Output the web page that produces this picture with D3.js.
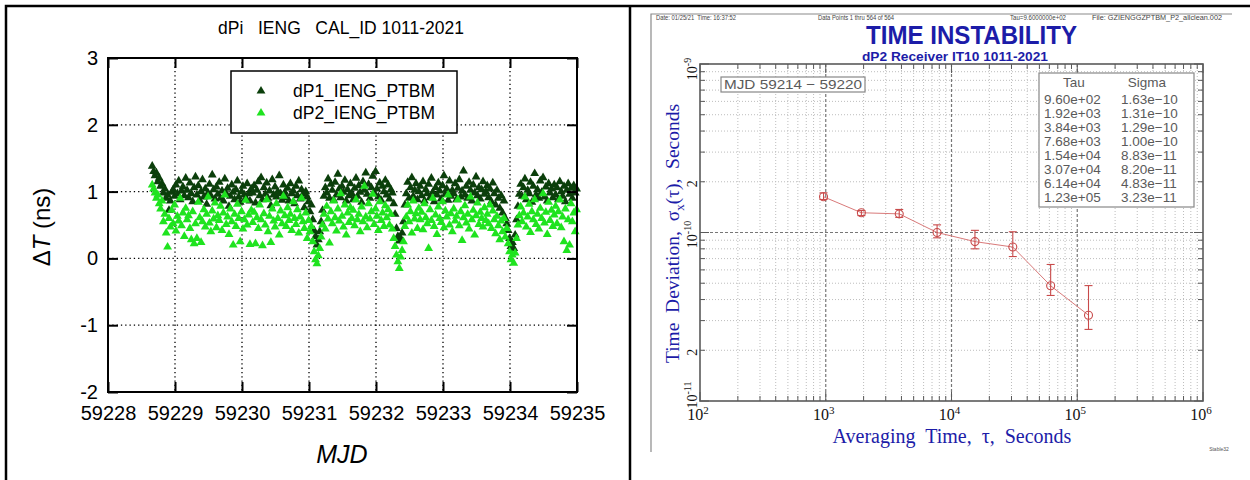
<!DOCTYPE html>
<html>
<head>
<meta charset="utf-8">
<script src="https://cdn.jsdelivr.net/npm/d3@7"></script>
<style>
  body { margin: 0; background: #fff; }
  svg { display: block; }
</style>
</head>
<body>
<svg id="chart" width="1250" height="480"></svg>
<script>
// ---------------- Calibration differences, IENG vs PTBM (ns) ----------------
const mjdStart = 59228.66;   // first epoch of the run
const mjdStep = 1 / 48;      // 30-minute sampling interval
const mjdTicks = [59228, 59229, 59230, 59231, 59232, 59233, 59234, 59235];
const dtTicks = [-2, -1, 0, 1, 2, 3];
const seriesNames = ["dP1_IENG_PTBM", "dP2_IENG_PTBM"];

// one row per half day
const dP1 = [
  1.38, 1.30, 1.24, 1.28, 1.15, 1.20, 1.08, 1.12, 0.98, 1.04, 0.90, 0.95, 0.72, 0.86, 0.99, 1.03, 0.93, 1.10, 0.97, 1.16, 0.88, 1.01, 1.07, 0.94,
  1.20, 1.02, 0.91, 1.13, 0.97, 0.85, 1.06, 1.22, 0.95, 1.09, 0.87, 1.00, 1.18, 0.92, 1.04, 0.81, 0.98, 1.11, 0.94, 1.25, 1.03, 0.89, 1.07, 0.96,
  1.14, 0.90, 1.01, 0.86, 1.19, 0.97, 1.05, 0.78, 0.93, 1.10, 0.99, 0.88, 1.03, 1.16, 0.92, 0.84, 1.00, 1.08, 0.95, 0.90, 1.12, 0.97, 0.86, 1.04,
  0.98, 1.09, 0.83, 1.02, 1.15, 0.94, 1.21, 0.88, 1.06, 0.96, 1.13, 0.90, 1.01, 0.79, 1.18, 0.95, 1.07, 0.92, 1.00, 1.24, 0.97, 0.87, 1.10, 0.99,
  0.91, 1.05, 0.86, 1.12, 0.97, 1.01, 0.82, 1.08, 0.94, 1.16, 0.89, 1.03, 0.96, 0.76, 1.00, 0.92, 0.85, 0.70, 0.80, 0.58, 0.42, 0.33, 0.20, 0.28,
  0.40, 0.55, 0.72, 0.93, 1.06, 0.98, 1.19, 0.90, 1.11, 1.02, 0.87, 1.14, 0.95, 1.26, 1.04, 0.91, 1.08, 0.99, 1.17, 0.86, 1.03, 0.94, 1.12, 0.97,
  0.88, 1.05, 1.20, 0.93, 1.09, 0.99, 0.84, 1.15, 1.02, 1.28, 0.96, 1.11, 0.90, 1.06, 1.23, 0.98, 1.30, 1.04, 0.92, 1.13, 0.87, 1.08, 1.00, 1.17,
  0.95, 1.10, 0.89, 1.03, 0.98, 0.82, 0.66, 0.45, 0.33, 0.26, 0.30, 0.38, 0.55, 0.80, 0.97, 1.14, 0.90, 1.06, 1.21, 0.93, 1.02, 1.12, 0.88, 1.00,
  1.08, 0.94, 1.15, 0.86, 1.03, 0.97, 1.11, 0.91, 1.20, 0.99, 0.85, 1.06, 0.95, 1.13, 1.01, 0.89, 1.09, 1.24, 0.96, 1.04, 0.87, 1.16, 0.93, 1.02,
  0.97, 1.12, 0.88, 1.05, 1.18, 0.92, 1.01, 1.31, 0.95, 1.08, 0.90, 1.14, 1.02, 0.86, 1.10, 0.98, 1.22, 0.94, 1.06, 0.89, 1.03, 1.15, 0.96, 1.00,
  1.09, 0.91, 1.04, 0.85, 1.13, 0.97, 0.80, 1.02, 0.90, 0.75, 0.94, 0.68, 0.86, 0.60, 0.52, 0.42, 0.30, 0.18, 0.24, 0.15, 0.35, 0.58, 0.78, 0.96,
  1.11, 0.93, 1.06, 1.19, 0.88, 1.02, 0.97, 1.14, 0.84, 1.08, 1.27, 0.95, 1.03, 0.90, 1.16, 0.99, 1.21, 0.92, 1.07, 0.86, 1.12, 0.98, 1.04, 0.91,
  1.10, 0.95, 1.06, 0.88, 1.15, 1.00, 0.93, 1.08, 0.85, 1.02, 1.12, 0.96, 1.05, 0.90, 1.09, 0.98, 1.04
];

const dP2 = [
  1.10, 1.04, 0.98, 0.90, 0.95, 0.82, 0.74, 0.86, 0.55, 0.66, 0.38, 0.17, 0.60, 0.47, 0.72, 0.52, 0.80, 0.41, 0.63, 0.56, 0.90, 0.49, 0.68, 0.33,
  0.75, 0.58, 0.64, 0.45, 0.28, 0.70, 0.22, 0.52, 0.30, 0.84, 0.61, 0.24, 0.55, 0.73, 0.47, 0.66, 0.92, 0.53, 0.40, 0.71, 0.59, 0.83, 0.46, 0.64,
  0.57, 0.78, 0.42, 0.68, 0.95, 0.51, 0.62, 0.36, 0.74, 0.55, 0.20, 0.66, 0.48, 0.81, 0.60, 0.25, 0.70, 0.44, 0.58, 0.87, 0.50, 0.65, 0.21, 0.72,
  0.54, 0.69, 0.22, 0.61, 0.45, 0.80, 0.58, 0.19, 0.67, 0.50, 0.88, 0.40, 0.63, 0.24, 0.74, 0.56, 0.47, 0.82, 0.60, 0.35, 0.71, 0.52, 0.93, 0.64,
  0.48, 0.76, 0.57, 0.66, 0.42, 0.85, 0.60, 0.51, 0.73, 0.38, 0.62, 0.90, 0.55, 0.45, 0.68, 0.30, 0.57, 0.40, 0.48, 0.25, 0.10, -0.02, -0.08, 0.04,
  0.15, 0.32, 0.50, 0.66, 0.44, 0.78, 0.59, 0.23, 0.70, 0.52, 0.86, 0.61, 0.41, 0.74, 0.56, 0.97, 0.63, 0.47, 0.80, 0.35, 0.68, 0.54, 0.76, 0.60,
  0.72, 0.49, 0.88, 0.58, 0.66, 0.40, 0.77, 0.55, 1.08, 0.62, 0.46, 0.82, 0.59, 0.70, 0.96, 0.51, 0.74, 0.63, 0.42, 0.85, 0.57, 0.68, 0.48, 0.79,
  0.61, 0.73, 0.50, 0.66, 0.44, 0.30, 0.18, 0.05, -0.05, -0.15, 0.02, 0.12, 0.25, 0.48, 0.62, 0.80, 0.55, 0.70, 0.38, 0.86, 0.59, 0.67, 0.45, 0.75,
  0.58, 0.69, 0.43, 0.82, 0.61, 0.52, 0.15, 0.73, 0.57, 0.90, 0.48, 0.65, 0.36, 0.77, 0.60, 0.54, 0.85, 0.46, 0.71, 0.62, 0.95, 0.50, 0.67, 0.40,
  0.74, 0.56, 0.63, 0.88, 0.49, 0.70, 0.27, 0.61, 0.79, 0.53, 0.66, 0.44, 0.92, 0.58, 0.72, 0.35, 0.64, 0.83, 0.51, 0.69, 0.60, 0.47, 0.76, 0.57,
  0.66, 0.52, 0.80, 0.45, 0.71, 0.58, 0.37, 0.63, 0.49, 0.28, 0.56, 0.40, 0.60, 0.32, 0.45, 0.22, 0.10, -0.02, 0.05, -0.07, 0.08, 0.30, 0.50, 0.64,
  0.77, 0.55, 0.68, 0.92, 0.47, 0.62, 0.81, 0.39, 0.70, 0.58, 0.88, 0.51, 0.66, 0.44, 0.75, 0.60, 0.97, 0.53, 0.69, 0.36, 0.84, 0.57, 0.72, 0.48,
  0.65, 0.78, 0.52, 0.70, 0.88, 0.46, 0.62, 0.25, 0.74, 0.12, 0.58, 0.20, 0.82, 0.55, 0.68, 0.40, 0.73
];

// ---------------- Time deviation of dP2 (seconds) ----------------
const tau = [960, 1920, 3840, 7680, 15360, 30720, 61440, 122880];
const sigma = [1.63e-10, 1.31e-10, 1.29e-10, 1.00e-10, 8.83e-11, 8.20e-11, 4.83e-11, 3.23e-11];
const sigmaLow = [1.57e-10, 1.26e-10, 1.23e-10, 0.93e-10, 0.80e-10, 0.72e-10, 4.23e-11, 2.66e-11];
const sigmaHigh = [1.72e-10, 1.35e-10, 1.37e-10, 1.11e-10, 1.03e-10, 1.01e-10, 6.46e-11, 4.84e-11];
const tauDecades = [2, 3, 4, 5, 6];
const sigmaDecades = [-11, -10, -9];

const svg = d3.select("#chart");
const SANS = "'Liberation Sans', Arial, sans-serif";
const SERIF = "'Liberation Serif', 'Times New Roman', serif";

// page frame: top rule, left rule and the column divider
svg.append("path")
  .attr("d", "M6,480V6H1250")
  .attr("fill", "none").attr("stroke", "#000").attr("stroke-width", 2.5);
svg.append("line")
  .attr("x1", 630).attr("x2", 630).attr("y1", 6).attr("y2", 480)
  .attr("stroke", "#000").attr("stroke-width", 2.5);

// =====================================================================
// Left panel: scatter of the two calibration differences
// =====================================================================
const L = { x0: 108, x1: 577, y0: 58, y1: 392 };
const lx = d3.scaleLinear().domain([59228, 59235]).range([L.x0, L.x1]);
const ly = d3.scaleLinear().domain([-2, 3]).range([L.y1, L.y0]);
const left = svg.append("g");

// dotted grid
const lgrid = left.append("g")
  .attr("stroke", "#000").attr("stroke-width", 1.3).attr("stroke-dasharray", "1.3,3");
lgrid.selectAll(".gx").data(mjdTicks.slice(1, -1)).join("line")
  .attr("x1", d => lx(d)).attr("x2", d => lx(d)).attr("y1", L.y0).attr("y2", L.y1);
lgrid.selectAll(".gy").data(dtTicks.slice(1, -1)).join("line")
  .attr("y1", d => ly(d)).attr("y2", d => ly(d)).attr("x1", L.x0).attr("x2", L.x1);

// markers: dP1 first, dP2 drawn over it
const tri = d3.symbol(d3.symbolTriangle).size(34)();
const seriesColors = ["#0b3f0b", "#1fe31f"];
[dP1, dP2].forEach((vals, s) => {
  left.append("g").selectAll("path").data(vals).join("path")
    .attr("d", tri)
    .attr("fill", seriesColors[s])
    .attr("transform", (v, i) => `translate(${lx(mjdStart + i * mjdStep)},${ly(v)})`);
});

// axes with inward ticks
function styleAxis(g) {
  g.select(".domain").remove();
  g.selectAll(".tick line").attr("stroke", "#000").attr("stroke-width", 2);
  g.selectAll("text").attr("fill", "#000").attr("font-family", SANS).attr("font-size", 20);
}
left.append("g").attr("transform", `translate(0,${L.y1})`)
  .call(d3.axisBottom(lx).tickValues(mjdTicks).tickSize(-10).tickPadding(14).tickFormat(d3.format("d")))
  .call(styleAxis);
left.append("g").attr("transform", `translate(0,${L.y0})`)
  .call(d3.axisTop(lx).tickValues(mjdTicks).tickSize(-10).tickFormat(""))
  .call(styleAxis);
left.append("g").attr("transform", `translate(${L.x0},0)`)
  .call(d3.axisLeft(ly).tickValues(dtTicks).tickSize(-10).tickPadding(10).tickFormat(d => d < 0 ? "-" + Math.abs(d) : d))
  .call(styleAxis);
left.append("g").attr("transform", `translate(${L.x1},0)`)
  .call(d3.axisRight(ly).tickValues(dtTicks).tickSize(-10).tickFormat(""))
  .call(styleAxis);

left.append("rect")
  .attr("x", L.x0).attr("y", L.y0).attr("width", L.x1 - L.x0).attr("height", L.y1 - L.y0)
  .attr("fill", "none").attr("stroke", "#000").attr("stroke-width", 2);

// legend
const lg = left.append("g");
lg.append("rect").attr("x", 231).attr("y", 71).attr("width", 226).attr("height", 62)
  .attr("fill", "#fff").attr("stroke", "#000").attr("stroke-width", 1.5);
seriesNames.forEach((name, s) => {
  const cy = 91 + s * 22;
  lg.append("path").attr("d", tri).attr("fill", seriesColors[s])
    .attr("transform", `translate(261,${cy})`);
  lg.append("text").attr("x", 293).attr("y", cy + 6)
    .attr("font-family", SANS).attr("font-size", 17.5).attr("fill", "#000").text(name);
});

// titles
left.append("text").attr("x", 341).attr("y", 34).attr("text-anchor", "middle")
  .attr("xml:space", "preserve")
  .attr("font-family", SANS).attr("font-size", 17.5).attr("fill", "#000")
  .text("dPi   IENG   CAL_ID 1011-2021");
left.append("text").attr("x", 342).attr("y", 463).attr("text-anchor", "middle")
  .attr("font-family", SANS).attr("font-size", 25).attr("font-style", "italic").attr("fill", "#000")
  .text("MJD");
const yt = left.append("text")
  .attr("transform", "translate(50,227) rotate(-90)").attr("text-anchor", "middle")
  .attr("xml:space", "preserve")
  .attr("font-family", SANS).attr("font-size", 24).attr("fill", "#000");
yt.append("tspan").text("\u0394");
yt.append("tspan").attr("font-style", "italic").text("T");
yt.append("tspan").text(" (ns)");

// =====================================================================
// Right panel: time deviation plot
// =====================================================================
const R = { x0: 700, x1: 1203, y0: 64, y1: 401 };
const xs = d3.scaleLog().domain([1e2, 1e6]).range([R.x0, R.x1]);
const ys = d3.scaleLog().domain([1e-11, 1e-9]).range([R.y1, R.y0]);
const right = svg.append("g");
const BLUE = "#1c1ca8";
const GREY = "#5a5a5a";

// plot image border
right.append("path").attr("d", "M651,452V14H1232")
  .attr("fill", "none").attr("stroke", "#8a8a8a").attr("stroke-width", 1.2);

// header line
const header = [
  { x: 656, w: 80, t: "Date: 01/25/21  Time: 16:37:52" },
  { x: 818, w: 76, t: "Data Points 1 thru 564 of 564" },
  { x: 1010, w: 56, t: "Tau=9.6000000e+02" },
  { x: 1092, w: 130, t: "File: GZIENGGZPTBM_P2_allclean.002" }
];
right.append("g").selectAll("text").data(header).join("text")
  .attr("x", d => d.x).attr("y", 20).attr("textLength", d => d.w).attr("lengthAdjust", "spacingAndGlyphs")
  .attr("xml:space", "preserve")
  .attr("font-family", SANS).attr("font-size", 7).attr("fill", "#444").text(d => d.t);

right.append("text").attr("x", 866).attr("y", 44).attr("textLength", 211).attr("lengthAdjust", "spacingAndGlyphs")
  .attr("font-family", SANS).attr("font-size", 25).attr("font-weight", "bold").attr("fill", BLUE)
  .text("TIME INSTABILITY");
right.append("text").attr("x", 862).attr("y", 61).attr("textLength", 186).attr("lengthAdjust", "spacingAndGlyphs")
  .attr("font-family", SANS).attr("font-weight", "bold").attr("font-size", 12.5).attr("fill", BLUE)
  .text("dP2 Receiver IT10 1011-2021");

// grid: minor dotted, decades dashed
const xTickVals = xs.ticks();
const yTickVals = ys.ticks();
const isDecade = v => Math.abs(Math.log10(v) - Math.round(Math.log10(v))) < 1e-9;
const inner = (arr, sc) => arr.filter(v => sc(v) > Math.min(...sc.range()) + 0.5 && sc(v) < Math.max(...sc.range()) - 0.5);
const rgrid = right.append("g").attr("fill", "none");
rgrid.selectAll(".vx").data(inner(xTickVals, xs)).join("line")
  .attr("x1", d => xs(d)).attr("x2", d => xs(d)).attr("y1", R.y0).attr("y2", R.y1)
  .attr("stroke", d => isDecade(d) ? "#777" : "#bdbdbd")
  .attr("stroke-width", d => isDecade(d) ? 1.2 : 1)
  .attr("stroke-dasharray", d => isDecade(d) ? "3,2" : "1,2");
rgrid.selectAll(".hy").data(inner(yTickVals, ys)).join("line")
  .attr("y1", d => ys(d)).attr("y2", d => ys(d)).attr("x1", R.x0).attr("x2", R.x1)
  .attr("stroke", d => isDecade(d) ? "#777" : "#bdbdbd")
  .attr("stroke-width", d => isDecade(d) ? 1.2 : 1)
  .attr("stroke-dasharray", d => isDecade(d) ? "3,2" : "1,2");

// frame ticks (inward)
const tk = right.append("g").attr("stroke", GREY).attr("stroke-width", 1);
const tl = d => isDecade(d) ? 9 : 5;
tk.selectAll(".tb").data(xTickVals).join("line")
  .attr("x1", d => xs(d)).attr("x2", d => xs(d)).attr("y1", R.y1).attr("y2", d => R.y1 - tl(d));
tk.selectAll(".tt").data(xTickVals).join("line")
  .attr("x1", d => xs(d)).attr("x2", d => xs(d)).attr("y1", R.y0).attr("y2", d => R.y0 + tl(d));
tk.selectAll(".tl").data(yTickVals).join("line")
  .attr("y1", d => ys(d)).attr("y2", d => ys(d)).attr("x1", R.x0).attr("x2", d => R.x0 + tl(d));
tk.selectAll(".tr").data(yTickVals).join("line")
  .attr("y1", d => ys(d)).attr("y2", d => ys(d)).attr("x1", R.x1).attr("x2", d => R.x1 - tl(d));

right.append("rect")
  .attr("x", R.x0).attr("y", R.y0).attr("width", R.x1 - R.x0).attr("height", R.y1 - R.y0)
  .attr("fill", "none").attr("stroke", GREY).attr("stroke-width", 1.6);

// x tick labels 10^n
right.append("g").selectAll("text").data(tauDecades).join("text")
  .attr("x", d => xs(Math.pow(10, d)) - 2).attr("y", 420).attr("text-anchor", "middle")
  .attr("font-family", SERIF).attr("font-size", 16).attr("fill", "#111")
  .each(function (d) {
    const t = d3.select(this);
    t.append("tspan").text("10");
    t.append("tspan").attr("dy", -6).attr("font-size", 11).text(d);
  });

// y tick labels, rotated; end labels are kept inside the frame
const yLabels = [
  ...sigmaDecades.map(e => ({ v: Math.pow(10, e), base: "10", exp: "-" + Math.abs(e) })),
  { v: 2e-11, base: "2", exp: "" },
  { v: 2e-10, base: "2", exp: "" }
];
const yLabelPos = v => Math.min(Math.max(ys(v) + 2, R.y0 + 5), R.y1 - 6);
right.append("g").selectAll("text").data(yLabels).join("text")
  .attr("transform", d => `translate(697,${yLabelPos(d.v)}) rotate(-90)`).attr("text-anchor", "middle")
  .attr("font-family", SERIF).attr("font-size", 14).attr("fill", "#111")
  .each(function (d) {
    const t = d3.select(this);
    t.append("tspan").text(d.base);
    if (d.exp) t.append("tspan").attr("dy", -6).attr("font-size", 10).text(d.exp);
  });

// axis titles
const ya = right.append("text")
  .attr("transform", `translate(679,${(97 + 370) / 2}) rotate(-90)`).attr("text-anchor", "middle")
  .attr("xml:space", "preserve")
  .attr("font-family", SERIF).attr("font-size", 19.5).attr("fill", BLUE);
ya.append("tspan").text("Time  Deviation,  \u03C3");
ya.append("tspan").attr("dy", 5).attr("font-size", 13).text("x");
ya.append("tspan").attr("dy", -5).text("(\u03C4),  Seconds");

right.append("text").attr("x", 952).attr("y", 443).attr("text-anchor", "middle")
  .attr("xml:space", "preserve")
  .attr("font-family", SERIF).attr("font-size", 20).attr("fill", BLUE)
  .text("Averaging  Time,  \u03C4,  Seconds");

right.append("text").attr("x", 1219).attr("y", 451).attr("text-anchor", "middle")
  .attr("font-family", SANS).attr("font-size", 5).attr("fill", "#555").text("Stable32");

// MJD span box
right.append("rect").attr("x", 721).attr("y", 77).attr("width", 144).attr("height", 15)
  .attr("fill", "#fff").attr("stroke", "#888").attr("stroke-width", 1.2);
right.append("text").attr("x", 724).attr("y", 89).attr("textLength", 138).attr("lengthAdjust", "spacingAndGlyphs")
  .attr("xml:space", "preserve")
  .attr("font-family", SANS).attr("font-size", 13.5).attr("fill", GREY)
  .text("MJD 59214 \u2212 59220");

// results table
const fmtExp = v => {
  const [m, e] = v.toExponential(2).split("e");
  const n = +e;
  return `${m}e${n < 0 ? "\u2212" : "+"}${String(Math.abs(n)).padStart(2, "0")}`;
};
right.append("rect").attr("x", 1039).attr("y", 73).attr("width", 155).attr("height", 134)
  .attr("fill", "#fff").attr("stroke", "#888").attr("stroke-width", 1.2);
const tbl = right.append("g").attr("font-family", SANS).attr("font-size", 13.5).attr("fill", GREY);
tbl.append("text").attr("x", 1074).attr("y", 87).attr("text-anchor", "middle").text("Tau");
tbl.append("text").attr("x", 1147).attr("y", 87).attr("text-anchor", "middle").text("Sigma");
tbl.selectAll(".rt").data(tau).join("text")
  .attr("x", 1044).attr("y", (d, i) => 104 + i * 14).text(d => fmtExp(d));
tbl.selectAll(".rs").data(sigma).join("text")
  .attr("x", 1121).attr("y", (d, i) => 104 + i * 14).text(d => fmtExp(d));

// data: connecting line, error bars, open circles
const RED = "#c84a4a";
const pts = tau.map((t, i) => ({ t, s: sigma[i], lo: sigmaLow[i], hi: sigmaHigh[i] }));
right.append("path").datum(pts)
  .attr("d", d3.line().x(d => xs(d.t)).y(d => ys(d.s)))
  .attr("fill", "none").attr("stroke", "#d97a7a").attr("stroke-width", 1);
const eb = right.append("g").attr("stroke", RED).attr("stroke-width", 1.1).attr("fill", "none");
eb.selectAll(".v").data(pts).join("line")
  .attr("x1", d => xs(d.t)).attr("x2", d => xs(d.t)).attr("y1", d => ys(d.lo)).attr("y2", d => ys(d.hi));
eb.selectAll(".c1").data(pts).join("line")
  .attr("x1", d => xs(d.t) - 4).attr("x2", d => xs(d.t) + 4).attr("y1", d => ys(d.lo)).attr("y2", d => ys(d.lo));
eb.selectAll(".c2").data(pts).join("line")
  .attr("x1", d => xs(d.t) - 4).attr("x2", d => xs(d.t) + 4).attr("y1", d => ys(d.hi)).attr("y2", d => ys(d.hi));
eb.selectAll("circle").data(pts).join("circle")
  .attr("cx", d => xs(d.t)).attr("cy", d => ys(d.s)).attr("r", 4);
</script>
</body>
</html>
